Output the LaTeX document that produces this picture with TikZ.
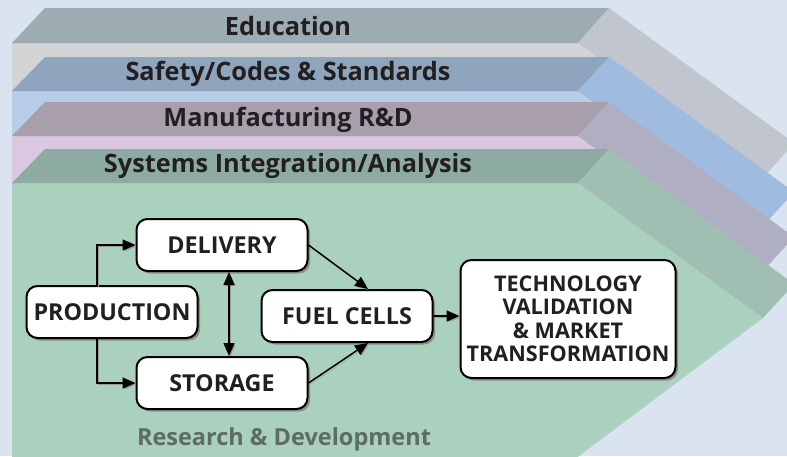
\documentclass[tikz,border=0pt]{standalone}
\usepackage{fontspec}
\setsansfont{Open Sans}
\usetikzlibrary{arrows.meta,shadows}

\definecolor{bg}{HTML}{DAE4F0}
\definecolor{ink}{HTML}{231F20}
\definecolor{rdtext}{HTML}{5E6B66}
\definecolor{eduTop}{HTML}{9DABB3}
\definecolor{eduFront}{HTML}{D2D4D6}
\definecolor{eduSide}{HTML}{C1C6CE}
\definecolor{safTop}{HTML}{8EA5BD}
\definecolor{safFront}{HTML}{B8CDE8}
\definecolor{safSide}{HTML}{A0BBE0}
\definecolor{manTop}{HTML}{A89EAC}
\definecolor{manFront}{HTML}{DAC7E0}
\definecolor{manSide}{HTML}{B0AEC3}
\definecolor{sysTop}{HTML}{8EABA2}
\definecolor{sysFront}{HTML}{A9D1BE}
\definecolor{sysSide}{HTML}{A1BEB2}

\begin{document}
\begin{tikzpicture}[
        x=1pt,y=-1pt,
        layer/.style={
          text=ink,
          font=\sffamily\bfseries\fontsize{25.3}{28}\selectfont
        },
        box/.style={
          draw=black,
          line width=2pt,
          fill=white,
          rounded corners=11pt,
          minimum width=171pt,
          minimum height=52pt,
          inner sep=1pt,
          align=center,
          text=ink,
          font=\sffamily\bfseries\fontsize{23.3}{25}\selectfont,
          drop shadow={shadow xshift=2.5pt,shadow yshift=-2.5pt,fill=black!45,opacity=1}
        },
        flow/.style={
          -{Triangle[length=13pt,width=11pt]},
          line width=1.5pt,
          preaction={draw=black!40,transform canvas={shift={(1.5pt,-1.5pt)}}}
        }
      ]
        \fill[bg] (0,0) rectangle (787,456);
        \useasboundingbox (0,0) rectangle (787,456);

        % stacked layers, back to front
        \begin{scope}
          \clip (0,0) rectangle (787,456);
          \foreach \t/\b/\c in {8/43/edu,57/91/saf,102/136/man,149/183/sys}{
            \fill[\c Front] (12,\b) -- (578,\b) -- (763,\b+135) -- (12,\b+698) -- cycle;
            \fill[\c Top] (12,\b) -- (45,\t) -- (609,\t) -- (578,\b) -- cycle;
            \fill[\c Side] (578,\b) -- (609,\t) -- (794,\t+135) -- (763,\b+135) -- cycle;
          }
        \end{scope}

        \node[layer] (edu) at (288,26) {Education};
        \node[layer] (saf) at (288,74) {Safety/Codes \& Standards};
        \node[layer] (man) at (288,120) {Manufacturing R\&D};
        \node[layer] (sys) at (288,166) {Systems Integration/Analysis};
        \node[layer,text=rdtext,font=\sffamily\bfseries\fontsize{23.5}{28}\selectfont]
              (rd) at (284,439) {Research \& Development};

        \node[box] (prod) at (112,312) {PRODUCTION};
        \node[box] (deliv) at (222,245) {DELIVERY};
        \node[box] (stor) at (222,383) {STORAGE};
        \node[box] (fuel) at (347,316) {FUEL CELLS};
        \node[box,minimum width=215pt,minimum height=118pt,
              font=\sffamily\bfseries\fontsize{21.6}{23.5}\selectfont] (tech) at (568,319)
              {TECHNOLOGY\\VALIDATION\\\& MARKET\\TRANSFORMATION};

        \draw[flow] ([xshift=-15pt]prod.north) |- (deliv.west);
        \draw[flow] ([xshift=-15pt]prod.south) |- (stor.west);
        \draw[flow,{Triangle[length=13pt,width=11pt]}-{Triangle[length=13pt,width=11pt]}]
              ([xshift=7pt]deliv.south) -- ([xshift=7pt]stor.north);
        \draw[flow] (deliv.east) -- ([xshift=21pt]fuel.north);
        \draw[flow] (stor.east) -- ([xshift=21pt]fuel.south);
        \draw[flow] (fuel.east) -- (fuel.east -| tech.west);
      \end{tikzpicture}
\end{document}
